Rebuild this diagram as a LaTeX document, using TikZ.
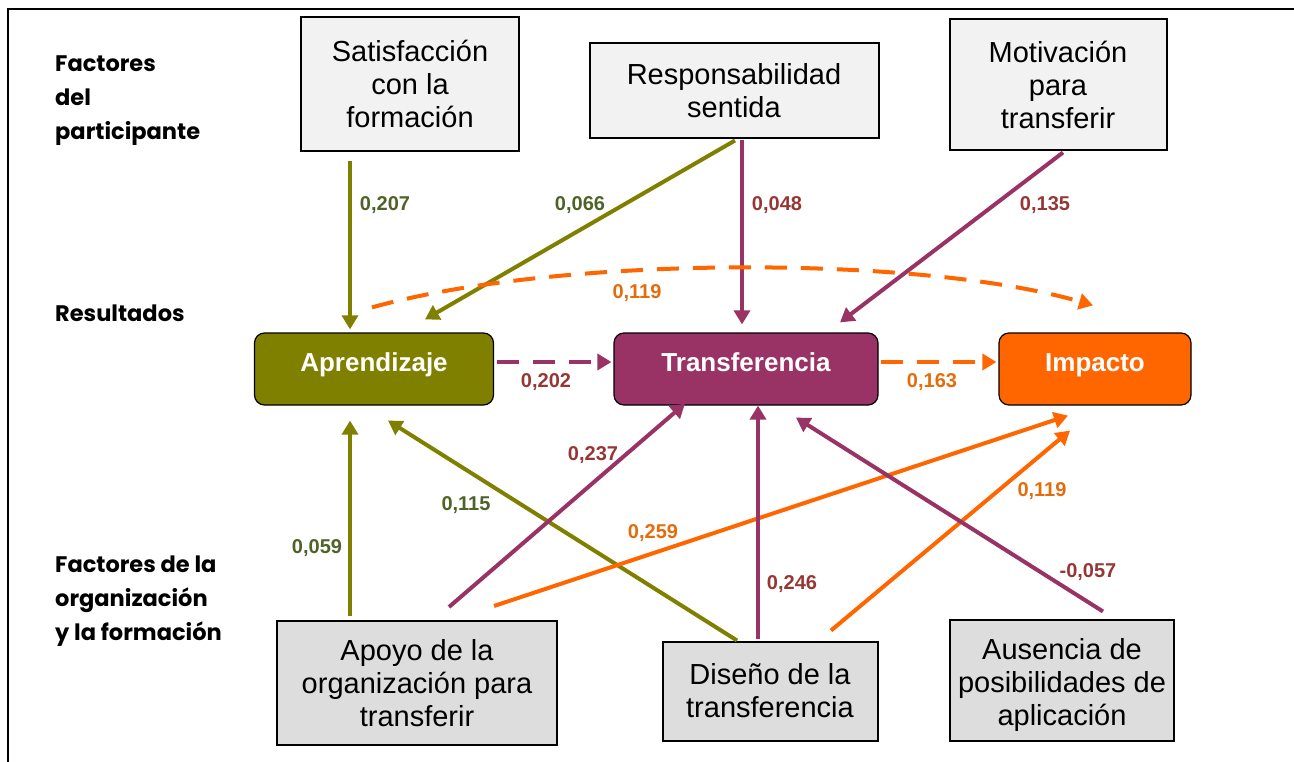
\documentclass[tikz,border=0pt]{standalone}
\usepackage{fontspec}
\setmainfont{Liberation Sans}
\newfontfamily\sidefont{Poppins}
\usetikzlibrary{arrows.meta}
\usetikzlibrary{calc}
\definecolor{olivo}{HTML}{808000}
\definecolor{morado}{HTML}{993366}
\definecolor{naranja}{HTML}{FF6600}
\definecolor{txtolivo}{HTML}{4F6228}
\definecolor{txtmorado}{HTML}{953735}
\definecolor{txtnaranja}{HTML}{E46C0A}
\definecolor{grisclaro}{HTML}{F2F2F2}
\definecolor{gris}{HTML}{DDDDDD}

\begin{document}
\begin{tikzpicture}[x=1pt,y=-1pt,
    factor/.style={draw=black, line width=2, inner sep=0, align=center,
        font=\fontsize{29}{33}\selectfont},
    resultado/.style={draw=black, line width=1.2, rounded corners=10, inner sep=0,
        text height=19pt, text depth=14pt,
        text=white, font=\bfseries\fontsize{26}{30}\selectfont},
    nivel/.style={anchor=west, align=left, inner sep=0,
        font=\sidefont\bfseries\fontsize{22.5}{34}\selectfont},
    peso/.style={inner sep=0, font=\bfseries\fontsize{20}{24}\selectfont},
    flecha/.style={line width=4, -{Triangle[length=14pt,width=16pt]}},
    discont/.style={dash pattern=on 22pt off 14pt}]
    \useasboundingbox (0,0) rectangle (1294,762);
    \draw[line width=1.5] (8,762) -- (8,9) -- (1294,9);

    % niveles
    \node[nivel] at (55,101) (N1) {Factores\\del\\participante};
    \node[nivel] at (55,313) (N2) {Resultados};
    \node[nivel] at (55,601) (N3) {Factores de la\\organizaci\'on\\y la formaci\'on};

    % factores del participante
    \node[factor, fill=grisclaro, minimum width=218, minimum height=134] at (410,84) (Sat) {Satisfacci\'on\\con la\\formaci\'on};
    \node[factor, fill=grisclaro, minimum width=289, minimum height=95] at (734,91) (Res) {Responsabilidad\\sentida};
    \node[factor, fill=grisclaro, minimum width=217, minimum height=131] at (1058,85) (Mot) {Motivaci\'on\\para\\transferir};

    % resultados
    \node[resultado, fill=olivo, minimum width=239, minimum height=72] at (374,369) (Apr) {Aprendizaje};
    \node[resultado, fill=morado, minimum width=264, minimum height=72] at (746,369) (Tra) {Transferencia};
    \node[resultado, fill=naranja, minimum width=192, minimum height=72] at (1095,369) (Imp) {Impacto};

    % factores de la organizacion
    \node[factor, fill=gris, minimum width=280, minimum height=124] at (417,683) (Apo) {Apoyo de la\\organizaci\'on para\\transferir};
    \node[factor, fill=gris, minimum width=215, minimum height=99] at (770,691) (Dis) {Dise\~no de la\\transferencia};
    \node[factor, fill=gris, minimum width=224, minimum height=121] at (1062,680) (Aus) {\rule{0pt}{31pt}Ausencia de\\posibilidades de\\aplicaci\'on};

    % flechas
    \draw[flecha, olivo] ($(Sat.south)+(-60,9)$) -- ($(Apr.north)+(-24,-3)$);
    \draw[flecha, olivo] ($(Res.south)+(1,1)$) -- ($(Apr.north)+(51,-13)$);
    \draw[flecha, morado] ($(Res.south)+(8,1)$) -- ($(Tra.north)+(-4,-8)$);
    \draw[flecha, morado] ($(Mot.south)+(5,1)$) -- ($(Tra.north)+(94,-10)$);
    \draw[flecha, discont, naranja] ($(Apr.north)+(-2,-25)$) .. controls (560,255) and (920,255) .. ($(Imp.north)+(-2,-27)$);
    \draw[flecha, discont, morado] ($(Apr.east)+(3,-7)$) -- ($(Tra.west)+(-2,-7)$);
    \draw[flecha, discont, naranja] ($(Tra.east)+(2,-7)$) -- ($(Imp.west)+(-2,-7)$);
    \draw[flecha, olivo] ($(Apo.north)+(-67,-4)$) -- ($(Apr.south)+(-24,15)$);
    \draw[flecha, olivo] ($(Dis.north)+(-33,0)$) -- ($(Apr.south)+(14,15)$);
    \draw[flecha, morado] ($(Apo.north)+(32,-13)$) -- ($(Tra.south)+(-61,-2)$);
    \draw[flecha, naranja] ($(Apo.north)+(77,-14)$) -- ($(Imp.south)+(-27,10)$);
    \draw[flecha, morado] ($(Dis.north)+(-12,-2)$) -- ($(Tra.south)+(12,0)$);
    \draw[flecha, naranja] ($(Dis.north)+(61,-10)$) -- ($(Imp.south)+(-25,25)$);
    \draw[flecha, morado] ($(Aus.north)+(41,-7)$) -- ($(Tra.south)+(50,12)$);

    % pesos
    \node[peso, txtolivo] at (385,205) (p1) {0,207};
    \node[peso, txtolivo] at (580,205) (p2) {0,066};
    \node[peso, txtmorado] at (777,205) (p3) {0,048};
    \node[peso, txtmorado] at (1045,205) (p4) {0,135};
    \node[peso, txtnaranja] at (637,293) (p5) {0,119};
    \node[peso, txtmorado] at (546,382) (p6) {0,202};
    \node[peso, txtnaranja] at (932,382) (p7) {0,163};
    \node[peso, txtolivo] at (317,548) (p8) {0,059};
    \node[peso, txtolivo] at (466,505) (p9) {0,115};
    \node[peso, txtmorado] at (593,455) (p10) {0,237};
    \node[peso, txtnaranja] at (653,533) (p11) {0,259};
    \node[peso, txtmorado] at (792,584) (p12) {0,246};
    \node[peso, txtnaranja] at (1042,491) (p13) {0,119};
    \node[peso, txtmorado] at (1088,572) (p14) {-0,057};
\end{tikzpicture}
\end{document}
